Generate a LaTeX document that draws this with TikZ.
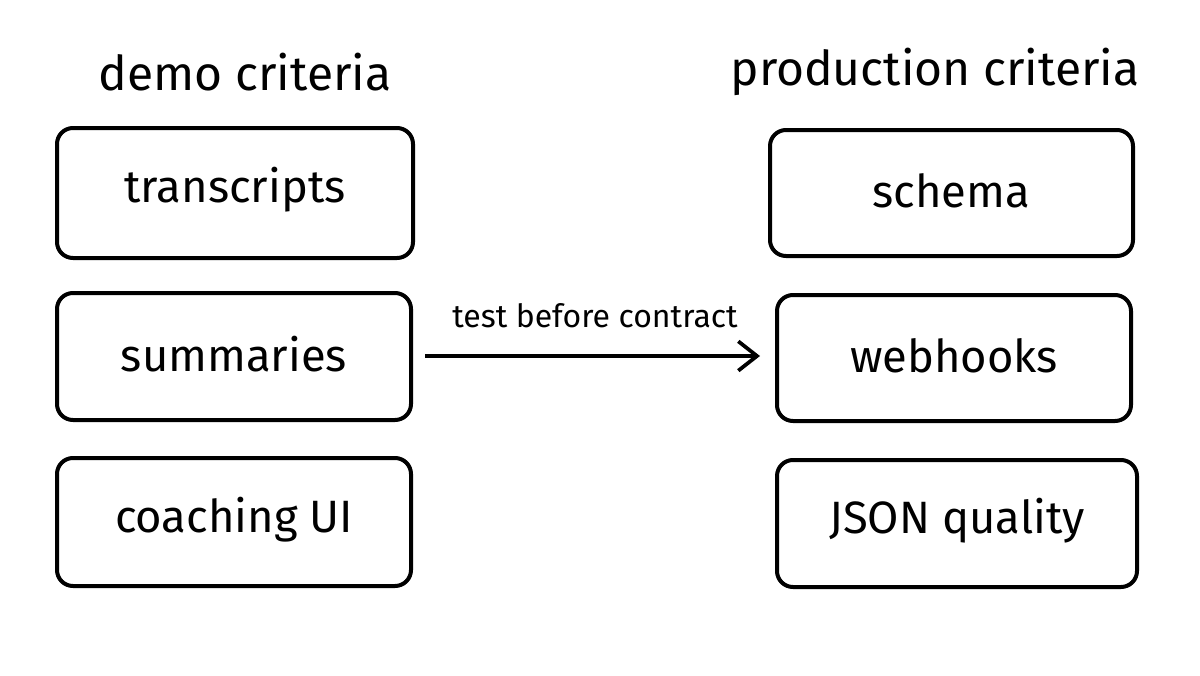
\documentclass[tikz,border=0pt]{standalone}
\usepackage{fontspec}
\setmainfont{Fira Sans}
\usetikzlibrary{arrows.meta}
\begin{document}
\begin{tikzpicture}[x=0.75pt,y=-0.75pt,
  box/.style={draw=black,line width=3pt,rounded corners=12pt,fill=white},
  boxtext/.style={font=\fontsize{34}{40}\selectfont},
  title/.style={font=\fontsize{36}{42}\selectfont},
  lbl/.style={font=\fontsize{24}{28}\selectfont},
  conn/.style={line width=2.8pt,-{Straight Barb[length=14pt,width=22pt,line width=2.8pt]}}]
\useasboundingbox[fill=white] (0,0) rectangle (1200,675);
\node[title] (tdemo) at (245,72) {demo criteria};
\node[title] (tprod) at (935,72) {production criteria};
% left boxes
\draw[box] (57,128) rectangle (413,258);
\node[boxtext] (b1) at (235,190) {transcripts};
\draw[box] (57,293) rectangle (411,420);
\node[boxtext] (b2) at (234,354) {summaries};
\draw[box] (57,458) rectangle (411,586);
\node[boxtext] (b3) at (234,520) {coaching UI};
% right boxes
\draw[box] (770,130) rectangle (1133,256);
\node[boxtext] (c1) at (951,191) {schema};
\draw[box] (777,295) rectangle (1131,421);
\node[boxtext] (c2) at (954,356) {webhooks};
\draw[box] (777,460) rectangle (1137,587);
\node[boxtext] (c3) at (957,521) {JSON quality};
% arrow
\coordinate (a0) at (425,356);
\coordinate (a1) at (760,356);
\draw[conn] (a0) -- (a1);
\node[lbl] (al) at (595,316) {test before contract};
\end{tikzpicture}
\end{document}
